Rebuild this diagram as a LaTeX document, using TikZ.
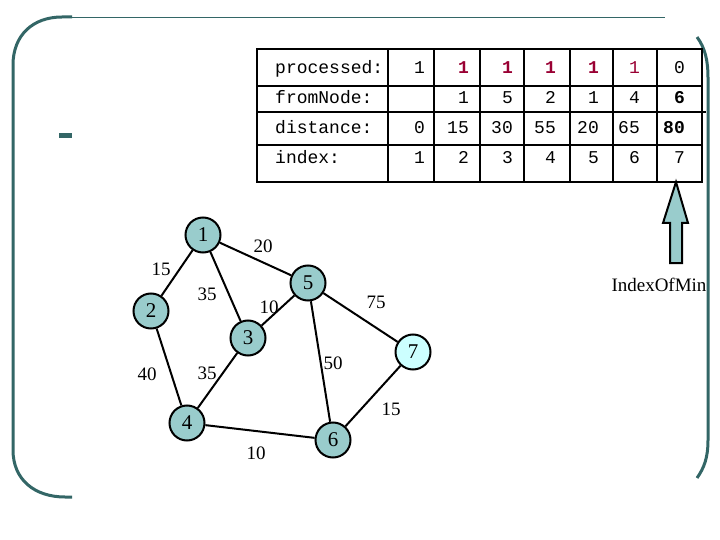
\documentclass[tikz,border=0pt]{standalone}
\usepackage{fontspec}
\setmainfont{Liberation Serif}
\setmonofont{Liberation Mono}
\definecolor{framecol}{HTML}{336666}
\definecolor{vertexcol}{HTML}{99CCCC}
\definecolor{targetcol}{HTML}{CCFFFF}
\definecolor{procred}{HTML}{990033}
\begin{document}
\begin{tikzpicture}[x=1pt,y=-1pt]
\tikzstyle{vertex node}=[circle, draw, line width=2pt, fill=vertexcol, minimum size=35pt, inner sep=0pt, font=\fontsize{21}{21}\selectfont]
\tikzstyle{weight}=[inner sep=0pt, font=\fontsize{19}{19}\selectfont]
\tikzstyle{cell}=[inner sep=0pt, anchor=base east, font=\ttfamily\fontsize{18}{18}\selectfont]
\tikzstyle{boldcell}=[cell, font=\ttfamily\bfseries\fontsize{18}{18}\selectfont]
\tikzstyle{rule}=[line width=2pt]
\useasboundingbox (0,0) rectangle (720,540);

% frame
\draw[framecol, line width=3pt] (72,17) -- (62,17) .. controls (33,17) and (13,35) .. (13,65)
  -- (13,450) .. controls (13,480) and (35,497) .. (65,497) -- (72,497);
\draw[framecol, line width=0.8pt] (72,17) -- (665,17);
\draw[framecol, line width=3pt] (697,37) .. controls (705,48) and (708,60) .. (708,78)
  -- (708,440) .. controls (708,458) and (704,468) .. (697,478);
\fill[framecol] (59,133) rectangle (72,138);

% table
\draw[rule] (257,49) rectangle (702,182);
\foreach \y in {86,145} \draw[rule] (257,\y) -- (702,\y);
\draw[rule] (257,112) -- (706,112);
\foreach \x in {388,434,480,524,570,613,657} \draw[rule] (\x,49) -- (\x,182);

\node[cell, anchor=base west] (rowProc) at (275,74) {processed:};
\node[cell, anchor=base west] (rowFrom) at (275,104) {fromNode:};
\node[cell, anchor=base west] (rowDist) at (275,134) {distance:};
\node[cell, anchor=base west] (rowIdx) at (275,164) {index:};

\node[cell] (proc1) at (425,74) {1};
\foreach \x [count=\i from 2] in {469,513,556,599}
  \node[boldcell, text=procred] (proc\i) at (\x,74) {1};
\node[cell, text=procred] (proc6) at (640,74) {1};
\node[cell] (proc7) at (685,74) {0};

\foreach \x/\f [count=\i from 2] in {469/1,513/5,556/2,599/1,640/4}
  \node[cell] (from\i) at (\x,104) {\f};
\node[boldcell] (from7) at (685,104) {6};

\foreach \x/\d [count=\i] in {425/0,469/15,513/30,556/55,599/20,640/65}
  \node[cell] (dist\i) at (\x,134) {\d};
\node[boldcell] (dist7) at (685,134) {80};

\foreach \x [count=\i] in {425,469,513,556,599,640,685}
  \node[cell] (idx\i) at (\x,164) {\i};

% arrow to index of min
\draw[rule, fill=vertexcol] (676,182) -- (688,223) -- (682,223) -- (682,263)
  -- (670,263) -- (670,223) -- (663,223) -- cycle;
\node[weight] (minLabel) at (659,285) {IndexOfMin};

% graph
\node[vertex node] (v1) at (203,235) {1};
\node[vertex node] (v2) at (151,311) {2};
\node[vertex node] (v3) at (248,338) {3};
\node[vertex node] (v4) at (187,423) {4};
\node[vertex node] (v5) at (308,283) {5};
\node[vertex node] (v6) at (333,440) {6};
\node[vertex node, fill=targetcol] (v7) at (413,352) {7};

\foreach \a/\b in {1/2,1/3,1/5,2/4,3/4,3/5,5/6,5/7,4/6,6/7}
  \draw[rule] (v\a) -- (v\b);

\foreach \p/\w [count=\i] in {(263,246)/20,(161,269)/15,(207,294)/35,(269,307)/10,
    (376,302)/75,(333,363)/50,(207,373)/35,(147,374)/40,(391,409)/15,(256,453)/10}
  \node[weight] (w\i) at \p {\w};

\end{tikzpicture}
\end{document}
